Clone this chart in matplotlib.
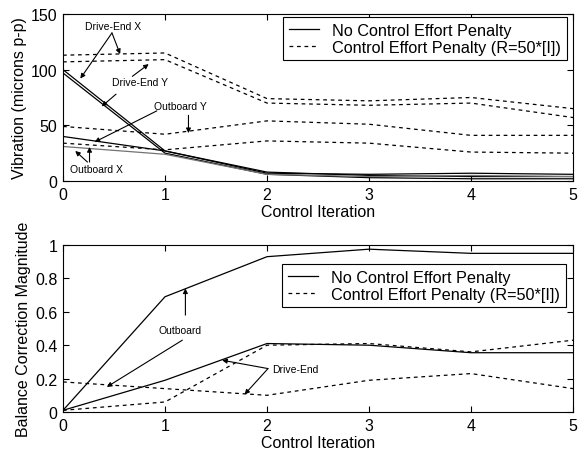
import matplotlib
matplotlib.use("Agg")
import matplotlib.pyplot as plt

plt.rcParams['font.family'] = ['Liberation Sans', 'DejaVu Sans']

iters = [0, 1, 2, 3, 4, 5]

# Top: vibration (microns p-p)
de_x_nopen = [100, 27, 8, 5, 4, 4]
de_y_nopen = [97, 25, 6, 3, 2, 2]
ob_y_nopen = [40, 27, 7, 6, 7, 6]
ob_x_nopen = [31, 24, 6, 4, 5, 4]
de_x_pen = [113, 115, 74, 72, 75, 65]
de_y_pen = [107, 109, 70, 68, 70, 57]
ob_y_pen = [49, 42, 54, 51, 41, 41]
ob_x_pen = [34, 28, 36, 34, 26, 25]

# Bottom: balance correction magnitude
ob_bal_nopen = [0.01, 0.69, 0.93, 0.975, 0.95, 0.95]
de_bal_nopen = [0.01, 0.19, 0.41, 0.40, 0.355, 0.355]
ob_bal_pen = [0.18, 0.14, 0.10, 0.19, 0.23, 0.14]
de_bal_pen = [0.01, 0.06, 0.40, 0.41, 0.36, 0.43]

legend_labels = ['No Control Effort Penalty', 'Control Effort Penalty (R=50*[I])']

W, H = 578, 460
fig = plt.figure(figsize=(W / 100, H / 100), dpi=100)
ax1 = fig.add_axes([63 / W, 1 - 182 / H, 510 / W, 167 / H])
ax2 = fig.add_axes([63 / W, 1 - 413 / H, 510 / W, 167 / H])

solid_kw = dict(color='k', lw=0.9, linestyle='-')
dash_kw = dict(color='k', lw=0.9, linestyle=(0, (3, 3)))

l1, = ax1.plot(iters, de_x_nopen, **solid_kw)
ax1.plot(iters, de_y_nopen, **solid_kw)
ax1.plot(iters, ob_y_nopen, **solid_kw)
ax1.plot(iters, ob_x_nopen, color='0.45', lw=0.9)
l2, = ax1.plot(iters, de_x_pen, **dash_kw)
ax1.plot(iters, de_y_pen, **dash_kw)
ax1.plot(iters, ob_y_pen, **dash_kw)
ax1.plot(iters, ob_x_pen, **dash_kw)

ax2.plot(iters, ob_bal_nopen, **solid_kw)
ax2.plot(iters, de_bal_nopen, **solid_kw)
ax2.plot(iters, ob_bal_pen, **dash_kw)
ax2.plot(iters, de_bal_pen, **dash_kw)

leg_anchor = {ax1: ((567 - 63) / 510, 1 - (18 - 15) / 167),
              ax2: ((566 - 63) / 510, 1 - (265 - 246) / 167)}

for ax in (ax1, ax2):
    ax.set_xlim(0, 5)
    ax.set_xticks(iters)
    ax.tick_params(direction='in', top=True, right=True, length=4, width=0.8,
                   labelsize=11.5, pad=4)
    ax.set_xlabel('Control Iteration', fontsize=11.5, labelpad=2)
    for s in ax.spines.values():
        s.set_linewidth(0.8)
    leg = ax.legend([l1, l2], legend_labels, loc='upper right',
                    bbox_to_anchor=leg_anchor[ax], fontsize=11.7,
                    frameon=True, fancybox=False, edgecolor='k', framealpha=1,
                    handlelength=1.9, borderpad=0.35, labelspacing=0.12,
                    handletextpad=0.8, borderaxespad=0)
    leg.get_frame().set_linewidth(0.8)

ax1.set_ylim(0, 150)
ax1.set_yticks([0, 50, 100, 150])
ax1.set_ylabel('Vibration (microns p-p)', fontsize=11.5, labelpad=3)

ax2.set_ylim(0, 1)
ax2.set_yticks([0, 0.2, 0.4, 0.6, 0.8, 1.0])
ax2.set_yticklabels(['0', '0.2', '0.4', '0.6', '0.8', '1'])
ax2.set_ylabel('Balance Correction Magnitude', fontsize=11.5, labelpad=3)

ap = dict(arrowstyle='-|>', color='k', lw=0.8, mutation_scale=7, shrinkA=0, shrinkB=0)
fs = 7.5

# Top annotations
ax1.text(0.49, 139, 'Drive-End X', fontsize=fs, ha='center', va='center')
ax1.annotate('', xy=(0.17, 92), xytext=(0.48, 133), arrowprops=ap)
ax1.annotate('', xy=(0.56, 114), xytext=(0.48, 133), arrowprops=ap)

ax1.text(0.76, 89, 'Drive-End Y', fontsize=fs, ha='center', va='center')
ax1.annotate('', xy=(0.84, 105), xytext=(0.68, 94), arrowprops=ap)
ax1.annotate('', xy=(0.38, 67), xytext=(0.52, 78), arrowprops=ap)

ax1.text(1.15, 67, 'Outboard Y', fontsize=fs, ha='center', va='center')
ax1.annotate('', xy=(0.31, 35), xytext=(0.92, 63), arrowprops=ap)
ax1.annotate('', xy=(1.23, 43), xytext=(1.23, 59), arrowprops=ap)

ax1.text(0.33, 10.5, 'Outboard X', fontsize=fs, ha='center', va='center')
ax1.annotate('', xy=(0.12, 27), xytext=(0.24, 17), arrowprops=ap)
ax1.annotate('', xy=(0.26, 30.5), xytext=(0.26, 17), arrowprops=ap)

# Bottom annotations
ax2.text(1.15, 0.49, 'Outboard', fontsize=fs, ha='center', va='center')
ax2.annotate('', xy=(1.2, 0.74), xytext=(1.2, 0.58), arrowprops=ap)
ax2.annotate('', xy=(0.43, 0.15), xytext=(1.17, 0.43), arrowprops=ap)

ax2.text(2.05, 0.26, 'Drive-End', fontsize=fs, ha='left', va='center')
ax2.annotate('', xy=(1.56, 0.31), xytext=(2.01, 0.26), arrowprops=ap)
ax2.annotate('', xy=(1.78, 0.105), xytext=(2.01, 0.26), arrowprops=ap)

fig.savefig('out.png', dpi=100)
